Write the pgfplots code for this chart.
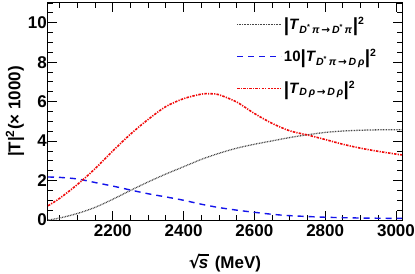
\documentclass[border=0pt]{standalone}
\usepackage{fontspec}
\setmainfont{Liberation Sans}
\newfontfamily\symfont{DejaVu Sans}
\usepackage{pgfplots}
\pgfplotsset{compat=1.18}
\definecolor{dotgray}{RGB}{70,70,70}
\definecolor{myblue}{RGB}{20,20,235}
\definecolor{myred}{RGB}{240,10,10}
\newcommand{\arr}{{\symfont\char"2192}}
\newcommand{\bigbar}{\raisebox{-0.12em}{\fontsize{19bp}{19bp}\selectfont|}}
\newcommand{\sqrts}{{\symfont\bfseries\char"221A}\kern-0.08em\rlap{\rule[0.75em]{0.6em}{0.09em}}\textit{s}\kern0.1em}
\begin{document}
\fontsize{17bp}{20bp}\selectfont\bfseries
\begin{tikzpicture}
\path[use as bounding box] (-48bp,-54bp) rectangle (367bp,220bp);
\begin{axis}[
  at={(0,0)}, anchor=south west,
  scale only axis, width=354bp, height=217bp,
  xmin=2017, xmax=3017, ymin=0, ymax=11,
  xtick={2200,2400,...,3000},
  minor xtick={2050,2100,...,3000},
  ytick={0,2,...,10},
  minor ytick={0.5,1,...,11},
  tick align=inside,
  major tick length=9bp, minor tick length=5bp,
  tick style={black, line width=0.9bp},
  axis line style={black, line width=1bp},
  xtick pos=both, ytick pos=both,
  /pgf/number format/set thousands separator={},
  /pgf/number format/assume math mode=true,
  tick label style={font=\fontsize{17bp}{20bp}\selectfont\bfseries},
  yticklabel style={inner xsep=1bp},
  xticklabel style={inner ysep=2bp, yshift=-2bp},
  xlabel={\sqrts\ (MeV)},
  ylabel={|T|\textsuperscript{2}(× 1000)},
  label style={font=\fontsize{17bp}{20bp}\selectfont\bfseries},
  xlabel style={at={(axis description cs:0.5,-0.198)}, anchor=center, inner sep=0pt},
  ylabel style={at={(axis description cs:-0.093,0.5)}, anchor=center},
  legend style={draw=none, fill=none, at={(axis description cs:0.523,0.955)}, anchor=north west,
    font=\fontsize{15bp}{18bp}\selectfont\bfseries, row sep=13bp,
    /tikz/every even column/.append style={column sep=7bp}},
  legend cell align=left,
  legend image code/.code={\draw[#1] (0bp,0bp) -- (44bp,0bp);},
]
\addplot[dotgray, line width=1.3bp, dash pattern=on 0.8bp off 0.8bp, smooth] coordinates {
(2017,0) (2050,0.1) (2100,0.33) (2150,0.64) (2200,1.05) (2250,1.5) (2300,1.93) (2350,2.33) (2400,2.7)
(2450,3.07) (2500,3.38) (2550,3.64) (2600,3.84) (2650,4.01) (2700,4.18) (2750,4.32) (2800,4.44)
(2850,4.51) (2900,4.55) (2950,4.57) (3017,4.58)};
\addlegendentry{\bigbar\textit{T}\textsubscript{\textit{D}\textsuperscript{*}\,\textit{π}\,\arr\,\textit{D}\textsuperscript{*}\,\textit{π}}\bigbar\textsuperscript{2}}
\addplot[myblue, line width=1.4bp, dash pattern=on 6bp off 5bp, smooth] coordinates {
(2017,2.18) (2050,2.16) (2100,2.08) (2150,1.9) (2200,1.72) (2250,1.52) (2300,1.33) (2350,1.17)
(2400,1.0) (2450,0.8) (2500,0.63) (2550,0.5) (2600,0.39) (2650,0.29) (2700,0.22) (2800,0.14)
(2900,0.1) (3017,0.08)};
\addlegendentry{10\bigbar\textit{T}\textsubscript{\textit{D}\textsuperscript{*}\,\textit{π}\,\arr\,\textit{D}\,\textit{ρ}}\bigbar\textsuperscript{2}}
\addplot[myred, line width=1.6bp, dash pattern=on 2.5bp off 1.2bp on 1.2bp off 1.2bp, smooth] coordinates {
(2017,0.72) (2050,1.1) (2100,1.8) (2150,2.6) (2200,3.5) (2250,4.35) (2300,5.1) (2350,5.75)
(2400,6.15) (2450,6.38) (2475,6.4) (2500,6.35) (2550,5.98) (2600,5.4) (2650,4.9) (2700,4.52)
(2750,4.31) (2800,4.08) (2850,3.84) (2900,3.64) (2950,3.48) (3000,3.34) (3017,3.3)};
\addlegendentry{\bigbar\textit{T}\textsubscript{\textit{D}\,\textit{ρ}\,\arr\,\textit{D}\,\textit{ρ}}\bigbar\textsuperscript{2}}
\end{axis}
\end{tikzpicture}
\end{document}
